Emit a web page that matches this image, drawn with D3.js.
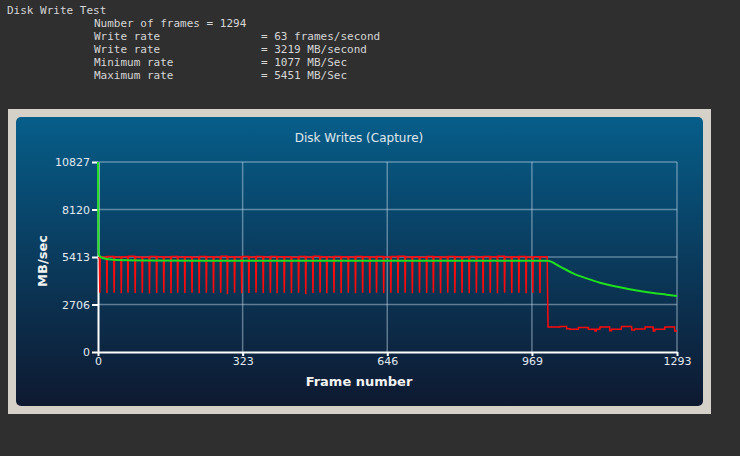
<!DOCTYPE html>
<html>
<head>
<meta charset="utf-8">
<script src="https://cdn.jsdelivr.net/npm/d3@7"></script>
<style>
    html, body { margin: 0; padding: 0; background: #2f2f2f; width: 740px; height: 456px; overflow: hidden; }
    .hdr { position: absolute; font-family: "DejaVu Sans Mono", monospace; font-size: 11px; line-height: 13px; color: #d6d6d6; white-space: pre; }
    svg { position: absolute; left: 0; top: 0; }
</style>
</head>
<body>
<div id="hdr"></div>
<svg id="chart" width="740" height="456"></svg>
<script>
// header report lines
var reportTitle = "Disk Write Test",
    reportLabels = ["Number of frames = 1294", "Write rate", "Write rate", "Minimum rate", "Maximum rate"],
    reportValues = ["", "= 63 frames/second", "= 3219 MB/second", "= 1077 MB/Sec", "= 5451 MB/Sec"];

// chart data
var chartTitle = "Disk Writes (Capture)",
    xTicks = [0, 323, 646, 969, 1293],
    yTicks = [0, 2706, 5413, 8120, 10827],
    dipFrames = [4, 20, 36, 52, 67, 83, 99, 115, 131, 147, 163, 178, 194, 210, 226, 242,
        258, 274, 289, 305, 321, 337, 353, 369, 385, 400, 416, 432, 448, 464, 480, 496,
        511, 527, 543, 559, 575, 591, 607, 622, 638, 654, 670, 686, 702, 718, 734, 749,
        765, 781, 797, 813, 829, 845, 860, 876, 892, 908, 924, 940, 956, 971, 987],
    dipValues = [3380, 3360, 3370, 3350, 3380, 3360, 3370, 3340, 3360, 3380, 3350, 3370, 3360, 3380, 3350, 3370,
        3360, 3380, 3300, 3370, 3350, 3360, 3380, 3360, 3370, 3350, 3380, 3360, 3370, 3300, 3360, 3380,
        3350, 3370, 3360, 3380, 3350, 3370, 3360, 3380, 3350, 3370, 3360, 3380, 3350, 3370, 3360, 3380,
        3350, 3370, 3360, 3380, 3350, 3370, 3360, 3380, 3350, 3370, 3360, 3380, 3350, 3370, 3360],
    levelValues = [5380, 5420, 5440, 5410, 5430, 5451, 5420, 5400, 5440, 5430, 5410, 5445, 5420, 5430, 5400, 5440,
        5425, 5410, 5450, 5430, 5415, 5440, 5420, 5435, 5410, 5445, 5425, 5430, 5405, 5440, 5420, 5450,
        5430, 5410, 5440, 5425, 5415, 5445, 5430, 5420, 5440, 5410, 5435, 5450, 5420, 5430, 5405, 5440,
        5425, 5415, 5445, 5430, 5420, 5440, 5410, 5435, 5425, 5450, 5420, 5430, 5440, 5415, 5430, 5425],
    dropFrame = 1004,
    tailFrames = [1005, 1032, 1047, 1054, 1073, 1095, 1110, 1113, 1121, 1143, 1147, 1169, 1192, 1199, 1222, 1240, 1244, 1266, 1288, 1293],
    tailValues = [1420, 1450, 1330, 1290, 1400, 1290, 1190, 1290, 1430, 1210, 1300, 1460, 1250, 1310, 1430, 1200, 1300, 1420, 1200, 1200],
    greenFrames = [0, 1, 2, 4, 8, 19, 40, 100, 400, 700, 1004, 1032, 1061, 1091, 1121, 1151, 1181, 1210, 1240, 1270, 1293],
    greenValues = [10827, 5715, 5560, 5460, 5380, 5300, 5245, 5215, 5200, 5195, 5195, 4862, 4483, 4198, 3950, 3761, 3608, 3476, 3362, 3266, 3191];

var hdr = document.getElementById("hdr");

function addHdr(text, left, topPx) {
    var d = document.createElement("div");
    d.className = "hdr";
    d.style.left = left + "px";
    d.style.top = topPx + "px";
    d.textContent = text;
    hdr.appendChild(d);
}

addHdr(reportTitle, 7, 4);
reportLabels.forEach(function (t, i) {
    addHdr(t, 94, 17 + i * 13);
    if (reportValues[i]) addHdr(reportValues[i], 261, 17 + i * 13);
});

var svg = d3.select("#chart"),
    plotLeft = 98, plotRight = 677, plotTop = 162, plotBottom = 352;

var x = d3.scaleLinear().domain([0, 1293]).range([plotLeft, plotRight]),
    y = d3.scaleLinear().domain([0, 10827]).range([plotBottom, plotTop]);

// panel background
var grad = svg.append("defs").append("linearGradient")
    .attr("id", "panelGrad").attr("x1", 0).attr("y1", 0).attr("x2", 0).attr("y2", 1);
grad.append("stop").attr("offset", "0%").attr("stop-color", "#065e8a");
grad.append("stop").attr("offset", "50%").attr("stop-color", "#0a3a5c");
grad.append("stop").attr("offset", "100%").attr("stop-color", "#0e1930");

svg.append("rect").attr("x", 8).attr("y", 109).attr("width", 703).attr("height", 305).attr("fill", "#d5d1c9");
svg.append("rect").attr("x", 16).attr("y", 117).attr("width", 687).attr("height", 289)
    .attr("rx", 5).attr("fill", "url(#panelGrad)");

// grid
var grid = svg.append("g").attr("stroke", "rgba(200,220,235,0.45)").attr("stroke-width", 1.5);
grid.selectAll("line.h").data(yTicks.slice(1)).enter().append("line")
    .attr("x1", plotLeft).attr("x2", plotRight)
    .attr("y1", function (d) { return y(d); }).attr("y2", function (d) { return y(d); });
grid.selectAll("line.v").data(xTicks.slice(1)).enter().append("line")
    .attr("y1", plotTop).attr("y2", plotBottom)
    .attr("x1", function (d) { return x(d); }).attr("x2", function (d) { return x(d); });

// axes (drawn under the series)
var yAxis = svg.append("g").attr("transform", "translate(" + plotLeft + ",0)")
    .call(d3.axisLeft(y).tickValues(yTicks).tickFormat(d3.format("d"))
        .tickSize(6).tickSizeOuter(0).tickPadding(2));
var xAxis = svg.append("g").attr("transform", "translate(0," + plotBottom + ")")
    .call(d3.axisBottom(x).tickValues(xTicks).tickFormat(d3.format("d"))
        .tickSize(4).tickSizeOuter(0).tickPadding(1));

[yAxis, xAxis].forEach(function (a) {
    a.select(".domain").attr("stroke", "#fff").attr("stroke-width", 2);
    a.selectAll(".tick line").attr("stroke", "#fff").attr("stroke-width", 2);
    a.selectAll(".tick text").attr("fill", "#e2eaf0")
        .style("font-family", "'DejaVu Sans', sans-serif").style("font-size", "11px");
});

// red instantaneous rate
var redPts = [[0, levelValues[0]]];
dipFrames.forEach(function (f, i) {
    redPts.push([f - 1, levelValues[i]], [f, dipValues[i]], [f + 1, levelValues[i + 1]]);
});
redPts.push([dropFrame - 1, levelValues[levelValues.length - 1]]);
tailFrames.forEach(function (f, j) {
    redPts.push([f, tailValues[j]]);
    if (j < tailFrames.length - 1) redPts.push([tailFrames[j + 1] - 0.5, tailValues[j]]);
});

var line = d3.line().x(function (d) { return x(d[0]); }).y(function (d) { return y(d[1]); });

svg.append("path").datum(redPts).attr("d", line)
    .attr("fill", "none").attr("stroke", "#ff0a0a").attr("stroke-width", 1.5);

// green average
var greenPts = greenFrames.map(function (f, i) { return [f, greenValues[i]]; });
svg.append("path").datum(greenPts).attr("d", line.curve(d3.curveMonotoneX))
    .attr("fill", "none").attr("stroke", "#1ee01e").attr("stroke-width", 2);

// titles
svg.append("text").attr("x", 359).attr("y", 142).attr("text-anchor", "middle")
    .attr("fill", "#e0e8ee").style("font-family", "'DejaVu Sans', sans-serif").style("font-size", "12px")
    .text(chartTitle);
svg.append("text").attr("x", 359).attr("y", 386).attr("text-anchor", "middle")
    .attr("fill", "#f2f2f2").style("font-family", "'DejaVu Sans', sans-serif").style("font-size", "13px")
    .style("font-weight", "bold").text("Frame number");
svg.append("text").attr("transform", "translate(47,261) rotate(-90)").attr("text-anchor", "middle")
    .attr("fill", "#f2f2f2").style("font-family", "'DejaVu Sans', sans-serif").style("font-size", "13px")
    .style("font-weight", "bold").text("MB/sec");
</script>
</body>
</html>
